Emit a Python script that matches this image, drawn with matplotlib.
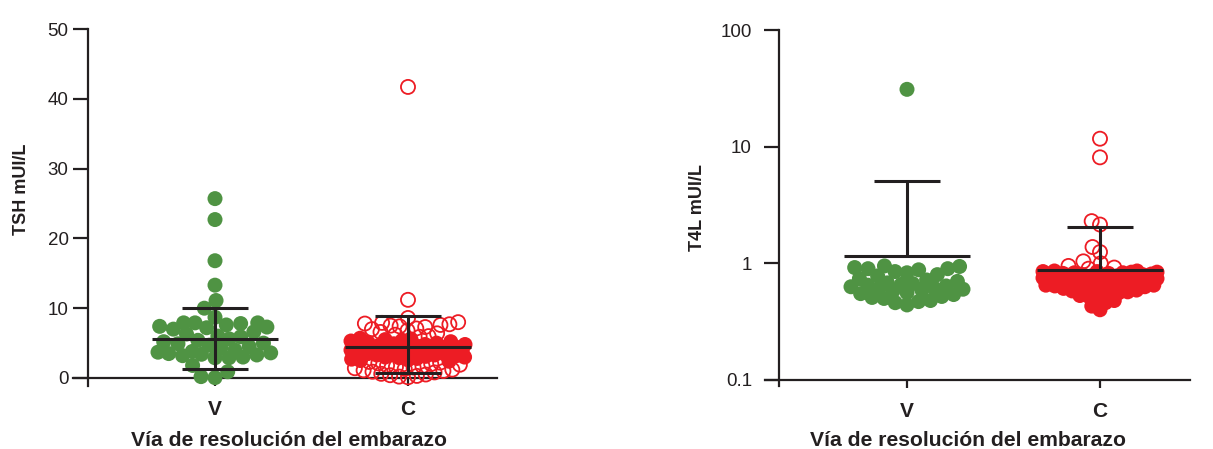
import numpy as np
import matplotlib
matplotlib.use("Agg")
import matplotlib.pyplot as plt
import matplotlib.ticker as mticker

plt.rcParams['font.family'] = ['Liberation Sans', 'DejaVu Sans']

# ---------------- data ----------------
categories = ['V', 'C']

# TSH (mUI/L)
tsh_v = [25.7, 22.7, 16.8, 13.3, 11.1, 10.0,
         8.7, 7.9, 7.9, 7.9, 7.8, 7.6, 7.4, 7.3, 7.2, 7.0,
         6.6, 6.3, 6.0, 5.9, 5.6, 5.4, 5.2, 5.0, 4.9, 4.7, 4.5, 4.3, 4.0,
         3.8, 3.7, 3.6, 3.5, 3.4, 3.3, 3.2, 3.0, 2.9, 2.9,
         1.8, 0.9, 0.2, 0.05]
tsh_c_core = [5.7, 5.6, 5.5, 5.4, 5.3, 5.2, 5.1, 5.0, 4.9, 4.8, 4.8, 4.7, 4.6,
              4.5, 4.5, 4.4, 4.4, 4.3, 4.3, 4.2, 4.2, 4.1, 4.0, 4.0, 3.9, 3.9,
              3.8, 3.8, 3.7, 3.6, 3.6, 3.5, 3.5, 3.4, 3.3, 3.3, 3.2, 3.1, 3.0,
              3.0, 2.9, 2.8, 2.7, 2.6, 2.5, 2.4]
tsh_c_open = [41.7, 11.2, 8.6, 8.0, 7.9, 7.8, 7.7, 7.6, 7.5, 7.4, 7.3, 7.1,
              7.0, 6.8, 6.6, 6.4, 6.2, 6.0, 5.9,
              2.3, 2.2, 2.1, 2.0, 1.9, 1.8, 1.7, 1.6, 1.5, 1.4, 1.3, 1.2, 1.1,
              1.0, 0.9, 0.8, 0.6, 0.5, 0.4, 0.3, 0.2, 0.1]
tsh_mean = [5.6, 4.4]
tsh_low = [1.3, 0.7]
tsh_high = [10.0, 8.9]

# T4L (mUI/L)
t4l_v = [31.0, 0.95, 0.94, 0.92, 0.90, 0.90, 0.88, 0.85, 0.83, 0.80, 0.78,
         0.74, 0.72, 0.70, 0.68, 0.67, 0.66, 0.65, 0.64, 0.63, 0.62, 0.61,
         0.60, 0.59, 0.58, 0.56, 0.55, 0.54, 0.52, 0.51, 0.50, 0.48, 0.47,
         0.46, 0.44]
t4l_c_core = [0.40, 0.43, 0.46, 0.48, 0.50, 0.52, 0.53, 0.55, 0.56, 0.57, 0.58,
              0.59, 0.60, 0.61, 0.62, 0.63, 0.63, 0.64, 0.65, 0.65, 0.66, 0.67,
              0.67, 0.68, 0.69, 0.69, 0.70, 0.70, 0.71, 0.72, 0.72, 0.73, 0.74,
              0.74, 0.75, 0.75, 0.76, 0.77, 0.77, 0.78, 0.78, 0.79, 0.80, 0.80,
              0.81, 0.81, 0.82, 0.82, 0.83, 0.83, 0.84, 0.84, 0.85, 0.85, 0.86,
              0.86]
t4l_c_open = [11.7, 8.1, 2.3, 2.15, 1.38, 1.25, 1.04, 1.0, 0.95, 0.92, 0.90]
t4l_mean = [1.15, 0.87]
t4l_high = [5.1, 2.05]

tsh_ticks = [0, 10, 20, 30, 40, 50]
t4l_ticks = [0.1, 1, 10, 100]
t4l_ticklabels = ['0.1', '1', '10', '100']

# ---------------- styling ----------------
W, H, DPI = 1213, 449, 100
GREEN = '#4f9343'
RED = '#ed1c24'
DARK = '#231f20'
DIAM = 15.0  # marker diameter in px
S = (DIAM * 72 / DPI) ** 2
SPACING = 193.0  # px between the two columns

fig = plt.figure(figsize=(W / DPI, H / DPI), dpi=DPI)


def px_axes(left, right, top, bottom):
    return fig.add_axes([left / W, 1 - bottom / H, (right - left) / W, (bottom - top) / H])


def swarm(ax, xc, values, diam, max_half):
    """Beeswarm offsets (points processed from low to high value)."""
    vals = np.asarray(values, float)
    pts = ax.transData.transform(np.column_stack([np.full(len(vals), xc), vals]))
    x0 = pts[0, 0]
    ys = pts[:, 1]
    order = np.argsort(ys, kind='stable')
    placed = []
    xs = np.zeros(len(vals))
    for i in order:
        y = ys[i]
        cands = [0.0]
        for (px, py) in placed:
            dy = abs(py - y)
            if dy < diam:
                dx = np.sqrt(diam ** 2 - dy ** 2)
                cands += [px + dx, px - dx]
        cands = sorted(set(cands), key=lambda c: (abs(c), c))
        chosen = None
        for c in cands:
            if abs(c) > max_half + 1e-9:
                continue
            if all((c - px) ** 2 + (y - py) ** 2 >= diam ** 2 - 1e-6 for px, py in placed):
                chosen = c
                break
        if chosen is None:
            grid = np.linspace(-max_half, max_half, 41)
            chosen = max(grid, key=lambda c: (min((c - px) ** 2 + (y - py) ** 2
                                                  for px, py in placed), -abs(c)))
        placed.append((chosen, y))
        xs[i] = chosen
    back = ax.transData.inverted().transform(np.column_stack([x0 + xs, ys]))
    return back[:, 0]


def style_axes(ax, spine_x, base_y, ticks, ticklabels, ypad):
    for s in ['top', 'right']:
        ax.spines[s].set_visible(False)
    ax.spines['left'].set_position(('data', spine_x))
    ax.spines['bottom'].set_position(('data', base_y))
    for s in ['left', 'bottom']:
        ax.spines[s].set_linewidth(1.6)
        ax.spines[s].set_color(DARK)
    ax.yaxis.set_minor_locator(mticker.NullLocator())
    ax.set_yticks(ticks)
    ax.set_yticklabels(ticklabels)
    ax.set_xticks([0, 1])
    ax.set_xticklabels(categories)
    ax.tick_params(axis='y', direction='out', length=10.5, width=1.6, color=DARK,
                   labelsize=13.5, pad=ypad, labelcolor=DARK)
    ax.tick_params(axis='x', direction='out', length=6, width=1.6, color=DARK,
                   labelsize=15, pad=10, labelcolor=DARK)
    for lab in ax.get_xticklabels():
        lab.set_fontweight('bold')
    ax.patch.set_visible(False)


def draw_errbar(ax, x, mean, low, high):
    half_mean = 63 / SPACING
    half_cap = 33 / SPACING
    kw = dict(color=DARK, lw=2.2, zorder=5)
    ax.hlines(mean, x - half_mean, x + half_mean, **kw)
    ax.hlines(high, x - half_cap, x + half_cap, **kw)
    if low is not None:
        ax.hlines(low, x - half_cap, x + half_cap, **kw)
        ax.vlines(x, low, high, **kw)
    else:
        ax.vlines(x, mean, high, **kw)


def draw_group(ax, x, core, opn, color, dcoll, cap):
    vals = list(core) + list(opn)
    xs = swarm(ax, x, vals, dcoll, cap)
    n = len(core)
    ax.scatter(xs[:n], core, s=S, color=color, edgecolors='none', zorder=3, clip_on=False)
    if len(opn):
        ax.scatter(xs[n:], opn, s=S * 0.88, facecolors='none', edgecolors=color,
                   linewidths=1.3, zorder=4, clip_on=False)


# ---------------- left panel: TSH ----------------
L_SPINE, L_V = 88, 215
axL = px_axes(73, 497, 29, 386)
unit = 50 / (378 - 29)
axL.set_ylim(-(386 - 378) * unit, 50)
axL.set_xlim((73 - L_V) / SPACING, (497 - L_V) / SPACING)
style_axes(axL, (L_SPINE - L_V) / SPACING, 0, tsh_ticks,
           [str(t) for t in tsh_ticks], 3.5)

draw_group(axL, 0, tsh_v, [], GREEN, 14, 57)
draw_group(axL, 1, tsh_c_core, tsh_c_open, RED, 9, 57)
for i in range(2):
    draw_errbar(axL, i, tsh_mean[i], tsh_low[i], tsh_high[i])

# ---------------- right panel: T4L ----------------
R_SPINE, R_V = 779, 907
axR = px_axes(765, 1190, 30, 386)
axR.set_yscale('log')
dec = (380 - 30) / 3.0
axR.set_ylim(10 ** (-1 - (386 - 380) / dec), 100)
axR.set_xlim((765 - R_V) / SPACING, (1190 - R_V) / SPACING)
style_axes(axR, (R_SPINE - R_V) / SPACING, 0.1, t4l_ticks, t4l_ticklabels, 9)

draw_group(axR, 0, t4l_v, [], GREEN, 12, 56)
draw_group(axR, 1, t4l_c_core, t4l_c_open, RED, 9, 57)
for i in range(2):
    draw_errbar(axR, i, t4l_mean[i], None, t4l_high[i])

# ---------------- labels ----------------
fig.text(22 / W, 1 - 189 / H, 'TSH mUI/L', rotation=90, ha='center', va='center',
         fontsize=13, fontweight='bold', color=DARK)
fig.text(697 / W, 1 - 208 / H, 'T4L mUI/L', rotation=90, ha='center', va='center',
         fontsize=13, fontweight='bold', color=DARK)
fig.text(289 / W, 1 - 440 / H, 'Vía de resolución del embarazo', ha='center', va='center',
         fontsize=15.2, fontweight='bold', color=DARK)
fig.text(968 / W, 1 - 440 / H, 'Vía de resolución del embarazo', ha='center', va='center',
         fontsize=15.2, fontweight='bold', color=DARK)

fig.savefig('out.png', dpi=DPI)
